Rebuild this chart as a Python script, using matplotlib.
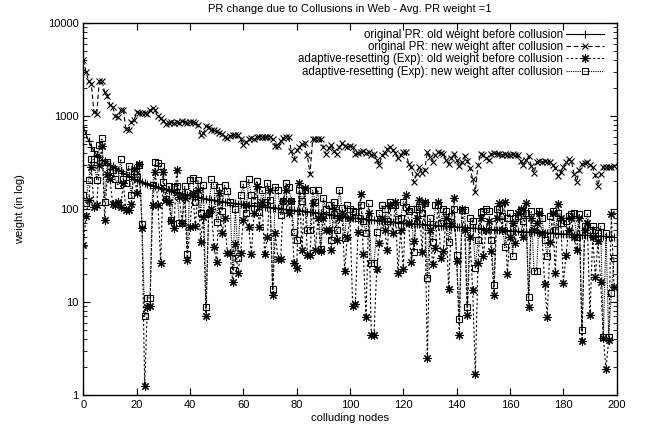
import matplotlib
matplotlib.use("Agg")
import matplotlib.pyplot as plt
from matplotlib.ticker import FixedLocator, LogLocator, NullFormatter

plt.rcParams['font.family'] = ['Liberation Sans', 'DejaVu Sans']

title = "PR change due to Collusions in Web - Avg. PR weight =1"
xlabel = "colluding nodes"
ylabel = "weight (in log)"
labels = ["original PR: old weight before collusion",
          "original PR: new weight after collusion",
          "adaptive-resetting (Exp): old weight before collusion",
          "adaptive-resetting (Exp): new weight after collusion"]

nodes = list(range(200))

pr_old = [755, 640, 540, 470, 420, 385, 360, 340, 325, 310, 298, 287, 276, 266, 256, 246, 236, 227, 219, 212,
          206, 200, 195, 191, 187, 183, 179, 176, 172, 169, 166, 163, 160, 157, 154, 151, 148, 146, 144, 142,
          140, 138, 136, 134, 132, 130, 128.5, 127, 125.5, 124, 123, 121.5, 120, 119, 118, 117, 116, 115, 114, 113,
          112, 111, 110, 109, 108.5, 108, 107, 106, 105.5, 105, 104, 103.5, 103, 102, 101, 100, 99.3, 98.6, 98, 97.2,
          96.5, 95.8, 95, 94.3, 93.6, 93, 92.3, 91.6, 91, 90.2, 89.5, 88.6, 87.8, 87, 86, 85, 84, 83, 82, 81.5,
          81, 80.4, 79.8, 79.2, 78.6, 78, 77.5, 77, 76.5, 76, 75.5, 75, 74.5, 74, 73.5, 73, 72.5, 72, 71.6, 71.2,
          70.8, 70.4, 70, 69.7, 69.3, 69, 68.6, 68.3, 68, 67.6, 67.3, 67, 66.7, 66.3, 66, 65.7, 65.4, 65.1, 64.8, 64.5,
          64.2, 64, 63.7, 63.4, 63.1, 62.8, 62.5, 62.2, 62, 61.7, 61.4, 61.1, 60.8, 60.5, 60.2, 59.9, 59.6, 59.3, 59, 58.7,
          58.4, 58.1, 57.8, 57.5, 57.3, 57, 56.8, 56.6, 56.4, 56.2, 56, 55.8, 55.6, 55.4, 55.2, 55, 54.8, 54.6, 54.4, 54.2,
          54, 53.8, 53.6, 53.4, 53.2, 53, 52.8, 52.6, 52.4, 52.2, 52, 51.8, 51.6, 51.4, 51.2, 51, 50.8, 50.6, 50.4, 50.2]

pr_new = [4000, 3000, 2400, 2200, 1100, 1050, 2400, 2400, 1800, 1650, 1300, 1250, 1000, 980, 1150, 1160, 720, 700, 870, 900,
          1100, 1080, 1070, 1090, 1060, 1150, 1220, 1150, 1000, 950, 880, 830, 850, 860, 840, 870, 850, 880, 860, 850,
          870, 860, 850, 800, 630, 650, 780, 760, 710, 700, 690, 650, 640, 600, 580, 610, 625, 630, 625, 560,
          490, 520, 560, 580, 570, 590, 600, 600, 590, 600, 600, 560, 480, 475, 540, 580, 600, 590, 420, 342,
          430, 470, 500, 510, 380, 238, 560, 566, 570, 566, 470, 387, 450, 490, 420, 387, 470, 508, 480, 470,
          475, 470, 387, 400, 410, 420, 400, 410, 380, 390, 340, 297, 380, 400, 440, 460, 430, 405, 350, 380,
          410, 410, 305, 280, 194, 240, 285, 242, 260, 410, 360, 320, 380, 410, 400, 390, 340, 305, 350, 395,
          340, 290, 320, 370, 330, 275, 210, 153, 300, 395, 380, 350, 336, 395, 400, 390, 395, 385, 390, 385,
          380, 390, 385, 380, 330, 297, 340, 370, 290, 242, 320, 325, 320, 325, 320, 320, 300, 278, 226, 250,
          280, 320, 345, 330, 240, 197, 260, 305, 315, 320, 300, 280, 230, 178, 240, 285, 280, 285, 285, 290]

ar_old = [41, 84, 125, 281, 104, 110, 300, 476, 76, 240, 209, 113, 110, 120, 105, 190, 97, 97, 113, 267,
          150, 302, 63, 1.25, 8.9, 9.0, 111, 250, 111, 26.5, 250, 125, 120, 75, 62, 263, 135, 71, 130, 28,
          64, 150, 65, 160, 44.5, 83, 7.1, 90, 100, 39, 27, 150, 55, 80, 34, 34, 16.5, 42, 20.6, 34,
          76, 110, 64, 33, 90, 176, 64, 120, 33, 50, 160, 11.9, 55, 29, 29, 122, 160, 90, 122, 26,
          23, 189, 36, 170, 32, 32, 115, 36, 80, 35, 80, 59, 60, 36, 100, 46, 80, 90, 21.7, 50,
          80, 9.1, 9.5, 57, 147, 33, 6.9, 90, 4.4, 4.4, 22.4, 42.7, 80, 60, 36, 110, 55, 120, 20.6, 60,
          22.4, 143, 70, 27, 45, 80, 125, 34.6, 118, 2.5, 60, 25.6, 38, 120, 30, 35, 80, 13.7, 70, 130,
          27.5, 4.4, 100, 60, 7.2, 50, 13.5, 1.7, 26, 80, 31, 60, 75, 35, 11.9, 80, 115, 60, 120, 20,
          50, 70, 42.7, 90, 100, 50, 115, 8.9, 80, 60, 70, 90, 55, 15.6, 6.9, 44, 90, 20.3, 113, 80,
          16, 32, 60, 80, 50, 36, 80, 3.8, 60, 70, 7.2, 50, 18.7, 45, 16.5, 4.1, 1.9, 3.9, 88, 14.5]

ar_new = [140, 117, 205, 342, 342, 205, 488, 575, 120, 323, 250, 263, 209, 180, 342, 209, 192, 290, 141, 257,
          220, 300, 69, 7.0, 11.1, 11.1, 180, 320, 310, 290, 196, 127, 175, 77, 173, 175, 71, 71, 175, 33,
          205, 215, 120, 205, 91, 180, 8.8, 91, 209, 180, 73, 173, 96, 180, 157, 120, 22, 100, 30, 141,
          185, 91, 209, 141, 125, 200, 93, 160, 120, 189, 125, 13.7, 173, 160, 86, 122, 189, 173, 122, 57,
          46, 160, 122, 160, 60, 60, 160, 118, 160, 37, 130, 100, 110, 47, 120, 60, 160, 102, 49, 110,
          100, 95, 93, 80, 110, 75, 55, 115, 26.5, 26.5, 57, 90, 110, 100, 75, 120, 110, 110, 78, 80,
          120, 105, 95, 100, 34.6, 100, 104, 90, 115, 18, 80, 44, 110, 110, 70, 100, 95, 44.5, 85, 100,
          32, 6.5, 98, 98, 8.9, 80, 75, 23, 47, 93, 95, 100, 95, 46, 15.2, 100, 100, 85, 38.6, 80,
          90, 31, 80, 85, 95, 75, 90, 11.4, 95, 21.7, 21.7, 95, 80, 46, 31, 84, 95, 60, 90, 70,
          70, 75, 85, 88, 90, 50, 88, 5.0, 65, 90, 60, 65, 60, 55, 65, 4.2, 55, 4.2, 12.4, 30]

fig = plt.figure(figsize=(6.47, 4.36), dpi=100)
ax = fig.add_axes([0.1288, 0.094, 0.8243, 0.853])

lw = 0.8
ax.plot(nodes, pr_old, color='black', lw=lw, ls='-', marker='+', ms=5.5, mew=0.8, label=labels[0])
ax.plot(nodes, pr_new, color='black', lw=lw, ls=(0, (4, 2.5)), marker='x', ms=5, mew=0.8, label=labels[1])
ax.plot(nodes, ar_old, color='black', lw=lw, ls=(0, (2, 2)), marker=(8, 2, 0), ms=6, mew=0.8, label=labels[2])
ax.plot(nodes, ar_new, color='black', lw=lw, ls=(0, (1, 1)), marker='s', ms=5, mew=0.8,
        mfc='none', label=labels[3])

ax.set_yscale('log')
ax.set_xlim(0, 200)
ax.set_ylim(1, 10000)
ax.xaxis.set_major_locator(FixedLocator(list(range(0, 201, 20))))
ax.set_yticks([1, 10, 100, 1000, 10000])
ax.set_yticklabels(['1', '10', '100', '1000', '10000'])
ax.yaxis.set_minor_locator(LogLocator(base=10, subs=range(2, 10)))
ax.yaxis.set_minor_formatter(NullFormatter())
ax.tick_params(which='both', direction='in', top=True, right=True, labelsize=8)
ax.tick_params(which='major', length=5, width=0.8)
ax.tick_params(which='minor', length=3, width=0.6)
for s in ax.spines.values():
    s.set_linewidth(1.0)

ax.set_title(title, fontsize=8, pad=8)
ax.set_xlabel(xlabel, fontsize=8, labelpad=2)
ax.set_ylabel(ylabel, fontsize=8, labelpad=16)

leg = ax.legend(loc='upper right', bbox_to_anchor=(0.977, 0.985), frameon=False, markerfirst=False,
                fontsize=8.3, handlelength=3.3, labelspacing=0.03, borderaxespad=0.0,
                handletextpad=0.3, borderpad=0.0)

fig.savefig('out.png', dpi=100)
